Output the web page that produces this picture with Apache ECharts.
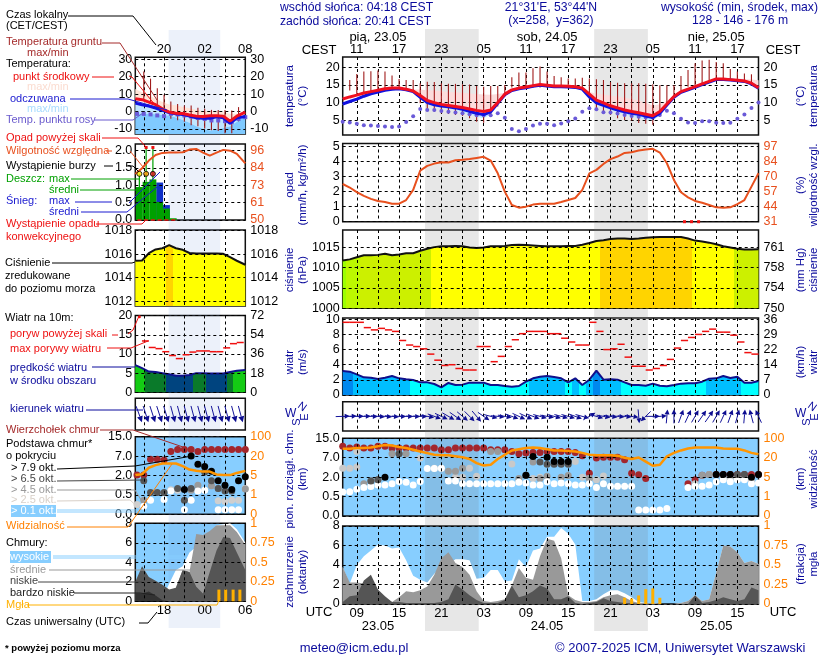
<!DOCTYPE html>
<html>
<head>
<meta charset="utf-8">
<title>meteogram</title>
<script src="https://cdn.jsdelivr.net/npm/echarts@6/dist/echarts.min.js"></script>
<style>
html,body{margin:0;padding:0;background:#fff}
#chart{width:820px;height:660px}
</style>
</head>
<body>
<div id="chart"></div>
<script>
// main panels: hourly, UTC hours counted from 00 on 23.05
const hours = Array.from({length: 60}, (_, i) => 7 + i);
const halfHours = hours.slice(0, 59).map(h => h + 0.5);
// left panels: previous forecast tail, samples read across the panel
const leftHours = [13.75,14.75,15.75,16.75,17.75,18.75,19.75,20.75,21.75,22.75,23.75,24.75,25.75,26.75,27.75,28.75,30];
const leftWhole = [14,15,16,17,18,19,20,21,22,23,24,25,26,27,28,29,30];

const nights = [[18.68, 26.3], [42.68, 50.3]];
const leftNight = [18.68, 26.3];

const cloudTicks = [0, 0.5, 2, 7, 15];
const visTicks = [0, 1, 5, 20, 100];
const pressureTicks = [1000, 1005, 1010, 1015];
const pressureLabels = ['750', '754', '758', '761'];
const rhTicks = [31, 44.2, 57.4, 70.6, 83.8, 97];
const rhLabels = ['31', '44', '57', '70', '84', '97'];
const windTicks = [0, 2, 4, 6, 8, 10];
const windLabels = ['0', '7', '14', '22', '29', '36'];

// temperature, main
const tempMid = [11,11.6,12.1,12.7,13.1,13.5,13.9,14.1,14.1,13.8,13.3,12,10.6,10,9.5,9.2,8.9,8.6,8.2,7.8,7.5,7.9,10,12.4,13.6,14.1,14.4,14.8,15.1,14.9,14.7,14.7,14.6,14.5,14.1,12.4,10.7,9.9,9.1,8.5,7.9,7.5,7.1,6.7,6.3,7.5,9.6,11.7,13.1,13.8,14.5,15.3,16,16.7,16.7,16.5,16.3,16.1,15.5,14.2];
const tempUpper = [11.2,11.8,12.3,12.9,13.3,13.7,14.1,14.3,14.3,14.1,13.7,13.7,13.5,13.4,13.2,13,12.9,12.8,12.6,12.4,12.3,12.2,12.4,12.8,13.8,14.3,14.6,15,15.3,15.1,14.9,14.9,14.8,14.7,14.4,13,12.6,12.3,12,11.7,11.4,11,10.6,10,9.2,9.5,10.5,12,13.3,14,14.7,15.5,16.2,16.9,16.9,16.9,16.8,16.7,16.5,16.3];
const felt = [9.6,10.3,11,11.8,12.5,13,13.5,13.8,13.9,13.6,13.1,11.5,10,9.4,9,8.8,8.5,8.1,7.5,7,6.6,7.4,9.8,12.2,13.4,13.9,14.2,14.6,14.9,14.7,14.5,14.5,14.4,14.3,13.8,11.6,9.9,9.2,8.5,7.9,7.4,7,6.7,6.2,5.8,7,9.3,11.5,12.9,13.6,14.3,15.1,15.8,16.5,16.5,16.4,16.2,16,15.3,14.1];
const feltLow = [9.3,10,10.6,11.4,12.1,12.7,13.2,13.5,13.6,13.4,12.9,11.3,9.7,9,8.5,8.2,7.8,7.3,6.6,6,5.6,6.6,9.5,12,13.2,13.7,14,14.4,14.7,14.5,14.3,14.3,14.2,14.1,13.6,11.2,9.4,8.6,7.9,7.2,6.7,6,5.6,5.2,4.9,6.3,9,11.3,12.7,13.4,14.1,14.9,15.6,16.3,16.3,16.2,16,15.8,15.1,13.9];
const dewPoint = [4.6,4.4,4,3.6,3.5,3.4,3.2,3.1,3.2,4.5,6.1,8.2,7.9,7.9,7.6,7.4,7.2,7,6.7,6.4,6.4,6.4,7,5.7,2.5,1.9,2.5,3.5,4,4,3.6,4.1,4.7,5.5,7.4,8.4,8.1,7.3,7.2,6.9,6.5,6.2,6,5.8,5.8,6.5,7.7,7,5.4,4.4,4.2,4.7,4.7,4.3,4.2,4.3,5.4,6.6,8.5,10];
// soil temperature sticks start at 08 UTC
const soilHours = hours.slice(1, 59);
const soilMax = [16.4,18.1,18.8,18.9,19.1,18.8,17.7,16.7,16.4,16.4,15.5,15.9,15.8,15.5,15.3,15.3,15.2,15.1,14.7,14.5,14.7,14.7,15,17.2,18.5,18.5,19.7,20.2,18.8,17.5,17.2,16.8,16.8,17,16.8,16.6,16.4,15.8,15.6,15.5,15.5,15.5,15.3,15.2,14.9,14.9,14.9,17.5,19.2,21.1,21.9,22.1,21.5,21.1,19.5,18.8,18.2,18];
const soilMin = [13.4,12,12.7,13.1,13.5,13.9,14.1,14.1,13.8,13.3,9.8,7.9,7.4,7,6.8,6.5,6.2,5.6,4.6,4.3,6.5,8.9,11.7,14.3,14.3,14.3,14.3,14.3,14.3,14.3,14.3,14.3,14.3,14.3,10.8,7.9,7,6.5,5.6,5.1,4.9,4.2,4,3.7,6,9.8,11.7,13.4,14.5,14.7,15.5,16.4,16.7,16.7,16.7,16.4,16.1,15.5];

// humidity and precipitation, main
const humidity = [64.1,61,57,53.6,51,49.2,48.3,46.8,46.8,50,58.9,75.9,80,82,83.2,83,85,85.3,86,87,88,84.7,73.5,57.4,45.7,43.3,44.2,46,46.8,46.8,46.8,48.3,50,51.8,58.9,73.5,76.5,81.7,85.9,88.2,91.4,92,93.5,94.4,95,91.7,82.3,67.7,56.8,52.4,49.2,47.7,45.7,43.6,43.3,43.6,46.5,50,61.8,73.5];
const convectiveHours = [55.5, 56.5, 57.5];

// pressure, main
const pressure = [1011.7,1012,1012.5,1013,1013,1013.1,1013.4,1013,1013.2,1013.5,1013.5,1014.1,1014.6,1015,1015.2,1015.2,1015.3,1015.2,1014.9,1014.8,1014.9,1015.2,1015.2,1015.3,1015.5,1015.6,1015.5,1015.4,1015.3,1015.2,1015.2,1015.2,1015.3,1015.3,1015.6,1016,1016.5,1016.7,1017,1017.1,1017.1,1017,1017.1,1017.3,1017.4,1017.5,1017.5,1017.5,1017.5,1017.1,1016.6,1016.4,1016.1,1015.7,1015.2,1014.9,1014.6,1014.4,1014.4,1014.5];

// wind, main
const windSpeed = [3.17,3.08,2.73,2.33,2.29,2.11,2.29,2.51,2.2,2.07,1.98,1.67,1.67,1.45,1.01,1.59,1.32,1.37,1.63,1.63,1.63,1.32,1.32,1.19,1.1,1.19,1.76,2.2,2.42,2.51,2.38,2.2,1.67,2.2,1.32,2.02,3.22,2.02,2.07,2.03,1.67,1.32,1.32,1.23,1.5,1.23,1.15,1.32,1.5,1.54,1.54,1.76,2.16,2.2,2.51,2.25,2.42,1.63,1.63,1.85];
const windGust = [9.6,9.6,9.6,8.9,8.6,8.8,8.6,8.4,7.2,6.6,6.4,6.1,5.4,4.6,3.9,4,3.5,3.3,3.3,6.4,6.4,4.4,5.1,6.4,7.3,8.1,8.4,8.4,8.4,8.1,8.1,7.5,7,6.6,6.6,9.6,8.4,6,6.1,6.7,5,3.8,3.8,3.3,3.5,3.9,4.7,6.2,7.2,7.6,8,8.4,8.7,8.3,8.3,7.9,7,5.6,5.4];
const windDir = [268,268,270,270,272,275,275,275,272,272,272,272,280,290,295,300,305,310,315,320,305,285,275,280,290,295,295,290,285,280,285,285,285,290,285,240,285,280,278,275,275,278,355,45,270,265,185,180,200,205,210,215,215,210,205,200,195,185,165,155];

// clouds, main: base heights in km per hour, null where no dot
const cloudTop = [11.7,11,11.4,11,11,11.7,11.7,11,11,11,11,11,11,11,10.3,10.3,11,11,11,11,11,10.3,10.3,10.3,9.6,8.6,8.9,9.2,9.2,9.6,9.6,9.6,9.6,9.2,7.8,3,6.9,7.2,7.2,7.2,6.5,3,2.6,1.9,null,null,null,null,null,1.5,1.8,2.5,2.7,2.7,2.7,2.7,2.7,2.7,2.7,2.7];
const cloudOver01 = [0.86,0.88,1.07,1.2,1.28,1.4,1.4,1.5,1.67,1.6,1.4,1.67,4.2,4.2,4.3,1.7,1.7,1.5,1.5,1.5,1.5,1.5,1.5,1.5,1.5,1.6,1.55,1.4,1.4,1.65,1.5,1.55,1.5,1.4,1.4,1.5,1.2,1.5,1.3,1.3,1.3,1.3,0.155,0.155,0.155,0.155,0.19,null,null,1.2,1.3,1.3,1.4,1.65,1.8,1.65,1.8,1.8,1.5,1.55];
const cloudOver25 = [[7,4.3],[8,4.3],[9,4.6],[9,9.6],[18,6.9],[20,4.3],[21,4.3],[23,2],[24,2],[25,4.3],[26,2.2],[31,5.4],[32,1.7],[34,1.9],[35,2],[40,6],[41,2],[42,1.9],[43,1.8],[44,2.3],[57,1.5],[59,2.7],[61,1.9],[62,1.9],[63,1.9],[64,1.9],[65,1.7]];
const cloudOver45 = [[10,1.5],[11,1.7],[12,1.8],[14,8.6],[15,8.6],[16,8.6],[22,3.5],[23,3.5],[24,4.3],[28,9.6],[29,9.6],[32,1.9],[34,5.9],[35,1.9],[36,2.2],[38,2],[39,2.4],[42,1.9],[58,2.5],[59,2.7]];
const cloudOver65 = [[12,1.8],[11,1.7],[15,8.6],[33,2.5],[35,5.9],[36,5.3],[37,5.3],[38,5.3],[39,5.3],[63,2.7],[64,2.7]];
const cloudOver79 = [[13,2],[33,2.5],[34,7.5],[36,7.2],[37,6],[38,6],[39,6],[60,2.7],[61,2.7],[62,2.7],[65,2],[66,2.7]];
const visibility = [57,57,60,60,62,67,72,70,64,60,53,46,39,32,30,30,26,22,19,15.8,14,14.6,19,32,50,55,60,62,60,55,50,50,48,46,40,32,30,30,30,28,20,19,21,17,13.8,14.6,26,40,50,58,62,62,62,62,58,57,57,50,40,34];
const coverHigh = [3.8,2.1,4,4.9,5.5,6.1,6,5.7,5.8,4.5,2.9,2.5,2.2,3.1,3.8,4.1,4.6,4.6,4.5,2.6,2.7,3.5,3.5,2.3,2.4,4.6,3.8,5.5,5.7,6.9,6.9,7.8,7.2,6.1,0.3,0.3,0.5,1,1.4,1.4,1.1,0.7,0.2,0.1,0.1,0,0,0,0.1,0.3,0.9,0.3,0.5,3.2,6,5.9,5.3,4.2,4.4,4.1];
const coverMid = [3.8,2.2,2.2,2.1,1.8,0.9,0.6,0.2,0.7,1.3,1.2,1.4,1.8,3,4.7,5.3,4.2,3.8,3,1.3,0.3,0.2,0.3,0.5,1.9,3.7,2.7,2.5,4.9,6.7,6.5,4.7,0.9,0.4,0.2,0.2,0.3,0.7,0.9,1,0.7,0.3,0.1,0.1,0.1,0,0,0,0.1,0.3,0.9,0.3,0.5,3.2,6,5.9,5.3,4.2,4.4,4.1];
const coverLow = [0.2,0.8,0.9,2.4,3,1.5,0.8,0.2,0.2,0.1,0.1,0.1,0.1,0.1,0.2,0.5,2,1.5,0.9,0.4,0.1,0.1,0.1,0.4,1.9,0.7,0.9,1.3,1.9,1.6,0.5,0.5,0.8,0.1,0,0.1,0.2,0.6,0.3,0.2,0.1,0.1,0,0,0,0,0,0,0,0,0.9,0.1,0.2,0.4,0.7,0.5,0.3,0.5,1.7,1.4];
const fogHours = [47, 48, 49, 50, 51, 52];
const fogFraction = [0.08, 0.07, 0.11, 0.19, 0.2, 0.08];

// left panels
const leftTempMid = [7.3,6.8,5.4,3.9,1.5,-0.4,-1,-1.2,-2.1,-2.7,-2.9,-2.5,-2.5,-2.7,-5.6,-2.7,-0.4];
const leftTempUpper = [13,11,9.3,7.3,5.4,4,3.5,2.5,1.9,1,0.2,0.2,0.2,-0.4,-1.4,-1.4,-0.4];
const leftFelt = [4.8,3.9,3.1,1.9,0.6,-0.6,-1.4,-1.7,-2.7,-3.7,-3.9,-3.9,-3.1,-3.7,-6.8,-3.7,-2.9];
const leftFeltLow = [-1,-1.2,-1.3,-1.6,-2,-2.4,-3.5,-5,-6.5,-8.5,-10,-11,-10.5,-9.5,-8.5,-6,-2.3];
const leftDewPoint = [-1.4,-1.4,-1.7,-2.3,-2.7,-1.4,-1.7,-2.3,-2.9,-3.7,-4.3,-5.2,-5.2,-5.6,-6.2,-4.3,-3.3];
const leftSoilHours = [15,16,17,18,19,20,21,22,23,24,25,26,27,28,29];
const leftSoilMax = [23,18.9,13.4,9.6,5.7,4.3,3.4,3.4,2.1,1.5,0.9,0.9,0.9,0.6,2.5];
const leftSoilMin = [7.2,4.7,2.8,1.5,-4.2,-5.1,-6,-7.9,-8.5,-9.8,-10.8,-11.3,-12.6,-12.6,-5.7];
const leftHumidity = [80.5,84.3,89.4,93.1,94.5,94.7,94.7,94.9,96.7,97.1,94.7,92.7,94.7,96.5,96,93.8,87.6];
const leftBarHours = [14.35,15.35,16.35,17.35,18.35,19.35];
const rainMean = [0.95,1.1,1.17,0.52,0.33,0.05];
const snowMax = [0,0,0,1.08,0.43,0];
const rainMax = [1.33,2.09,2.09];
const stormLevel = [1.33,1.33,1.33];
const stormColors = ['#ffee00','#ff9900','#e01010'];
const leftPressure = [1015.44,1015.46,1016.08,1016.4,1016.5,1016.76,1016.5,1016.37,1016.1,1016.06,1016.06,1016.06,1016.06,1016.03,1015.75,1015.44,1015.1];
const leftWind = [7.1,6.3,5.4,5.3,5,4.7,4.3,4.3,4.5,5,5,4.9,4.9,4.9,5.3,5.6,5.8];
const leftGustHours = [15.25,16.25,17.25,18.25,19.25,20.25,21.25,22.25,23.25,24.25,25.25,26.25,27.25,28.25,29.25];
const leftGust = [13.4,11.7,11.4,10.6,9.6,8.8,9.8,10.5,10.8,10.8,10.6,10.6,11.6,12.7,13];
const leftDir = [340,342,342,342,343,345,345,345,345,345,345,345,345,345,345,345];
const leftCloudTop = [2.1,2.1,6.2,6.2,6,8.9,9.7,9.7,9.7,8.9,9.7,9.7,9.7,9.7,9.7,9.7,9.7];
const leftOver01 = [[15,0.21],[16,0.36],[18,0.38],[19,0.8],[21,0.12],[22,0.36],[23,0.8],[24,0.85],[26,0.12],[27,0.12],[28,0.12],[29,0.12]];
const leftOver25 = [[14,0.25],[19,0.9],[20,0.85],[24,0.85],[26,0.35],[27,0.33],[28,0.36],[29,0.36],[30,1]];
const leftOver45 = [[15,0.36],[22,0.85],[23,1.25],[25,1.2],[26,1],[30,0.95]];
const leftOver65 = [[15,1.6],[16,0.68],[17,0.68],[18,0.68],[20,1],[21,0.36],[22,1],[24,2.9],[25,1.6],[26,1],[27,0.8],[28,0.8]];
const leftOver79 = [[21,0.92],[22,7],[23,4.9],[24,4.3],[25,3.1],[26,1.6],[27,1.25],[28,0.92],[29,1.6],[30,1.9]];
const leftVisibility = [5.3,6,11,13,14.3,14.3,14.3,12.2,9.6,8.6,8,8,5.8,5.3,5.3,7,8.6];
const leftCoverHigh = [0,0,0,0,0.3,1.8,3.2,3.6,5,5.6,5.9,6.4,7.8,7.9,8,7.4,6];
const leftCoverMid = [0,0,0,0,0,1,1.4,3.2,3,6.9,6.8,7.2,7.8,7.8,7.8,7.1,5.8];
const leftCoverLow = [2,3.6,2.5,2.1,1.7,1.2,1.4,3.2,3,1.5,0.8,3,5.2,6.6,6.5,5,3.2];
const leftCoverVeryLow = [0.8,0.8,1,0.6,0.1,0,0,0,0,0,0,0,0,0,0,0,0];
const leftFogHours = [26.1,27.1,28.2,29.2];
const leftFog = [0.15,0.15,0.15,0.15];

const FONT = '"Liberation Sans", Arial, sans-serif';
const NAVY = '#0a0a9c';
const ORANGE = '#ff8000';
const RH_COLOR = '#e8501e';
const SKY = '#87ceff';

const pairs = (xs, ys) => xs.map((x, i) => [x, ys[i]]);

function scaleLevel(v, ticks) {
    if (v == null) return null;
    for (let i = 1; i < ticks.length; i++) {
        if (v <= ticks[i]) return i - 1 + (v - ticks[i - 1]) / (ticks[i] - ticks[i - 1]);
    }
    return ticks.length - 1;
}
const cloudLevel = v => scaleLevel(v, cloudTicks);
const visLevel = v => scaleLevel(v, visTicks);

function pressureColor(p) {
    if (p < 1012) return '#9cff00';
    if (p < 1013) return '#bcf800';
    if (p < 1014.7) return '#ccf000';
    if (p < 1016.65) return '#ffff00';
    return '#ffd400';
}
function windColor(v) {
    if (v >= 3) return '#0088ee';
    if (v >= 2) return '#00bfff';
    return '#00ffff';
}
function leftWindColor(v) {
    if (v >= 5.5) return '#14cc14';
    if (v >= 4.95) return '#0a7a2a';
    return '#00447f';
}
// hard colour steps across an area, one per sample
function stepFill(xs, ys, colorOf) {
    const x0 = xs[0], x1 = xs[xs.length - 1];
    const stops = [];
    for (let i = 0; i < xs.length; i++) {
        const a = i === 0 ? x0 : (xs[i - 1] + xs[i]) / 2;
        const b = i === xs.length - 1 ? x1 : (xs[i] + xs[i + 1]) / 2;
        const c = colorOf(ys[i]);
        stops.push({offset: (a - x0) / (x1 - x0), color: c});
        stops.push({offset: (b - x0) / (x1 - x0), color: c});
    }
    return new echarts.graphic.LinearGradient(0, 0, 1, 0, stops);
}

const grids = [], xAxes = [], yAxes = [], series = [];
const gridLine = {show: true, lineStyle: {color: '#000', width: 1, type: [3, 3]}};

function labelFn(ticks, labels) {
    return v => {
        let idx = ticks.indexOf(v);
        return idx < 0 ? '' : labels[idx];
    };
}

function addPanel(opt) {
    const g = grids.length;
    grids.push({
        show: true, left: opt.left, top: opt.top, width: opt.width, height: opt.bottom - opt.top,
        borderColor: '#111', borderWidth: 1.5, backgroundColor: opt.bg || 'transparent'
    });
    const xi = xAxes.length;
    xAxes.push({
        gridIndex: g, type: 'value', min: opt.xMin, max: opt.xMax, z: 5, position: 'bottom',
        axisLine: {show: false}, axisTick: {show: false, customValues: opt.xGrid},
        axisLabel: {show: false}, splitLine: gridLine
    });
    const yl = yAxes.length;
    yAxes.push({
        gridIndex: g, type: 'value', position: 'left', min: opt.yMin, max: opt.yMax, z: 5,
        axisLine: {show: false}, axisTick: {show: false, customValues: opt.yTicks || []},
        axisLabel: {
            show: !!opt.yTicks, customValues: opt.yTicks || [], margin: 3,
            color: '#000', fontFamily: FONT, fontSize: 12.5, formatter: opt.yFmt || (v => String(v))
        },
        splitLine: opt.yTicks ? gridLine : {show: false}
    });
    const rMin = opt.rMin === undefined ? opt.yMin : opt.rMin;
    const rMax = opt.rMax === undefined ? opt.yMax : opt.rMax;
    yAxes.push({
        gridIndex: g, type: 'value', position: 'right', min: rMin, max: rMax, z: 5,
        axisLine: {show: false}, axisTick: {show: false, customValues: opt.rTicks || []},
        axisLabel: {
            show: !!opt.rTicks, customValues: opt.rTicks || [], margin: 5,
            color: opt.rColor || '#000', fontFamily: FONT, fontSize: 12.5, formatter: opt.rFmt || (v => String(v))
        },
        splitLine: {show: false}
    });
    return {x: xi, yl: yl, yr: yl + 1, g: g};
}

function addLabelAxis(panel, position, offset, ticks, fmt) {
    const ref = xAxes[panel.x];
    xAxes.push({
        gridIndex: panel.g, type: 'value', min: ref.min, max: ref.max, position: position, offset: offset, z: 5,
        axisLine: {show: false}, axisTick: {show: false, customValues: ticks},
        axisLabel: {show: true, customValues: ticks, margin: position === 'top' ? 1 : 3, color: '#000', fontFamily: FONT, fontSize: 13, formatter: fmt},
        splitLine: {show: false}
    });
}

function line(p, data, color, width, z, extra) {
    series.push(Object.assign({
        type: 'line', xAxisIndex: p.x, yAxisIndex: p.yl, data: data, showSymbol: false, silent: true,
        lineStyle: {color: color, width: width}, itemStyle: {color: color}, z: z
    }, extra || {}));
}
function area(p, xs, ys, fill, z, lineColor, lineWidth) {
    series.push({
        type: 'line', xAxisIndex: p.x, yAxisIndex: p.yl, data: pairs(xs, ys), showSymbol: false, silent: true,
        lineStyle: lineColor ? {color: lineColor, width: lineWidth} : {width: 0},
        itemStyle: {color: lineColor || '#000'},
        areaStyle: {color: fill, opacity: 1, origin: 'start'}, z: z
    });
}
// filled band between two curves, one polygon through the axis scales
function band(p, xs, lower, upper, color, z) {
    series.push({
        type: 'custom', xAxisIndex: p.x, yAxisIndex: p.yl, data: xs.map((x, i) => [x, lower[i], upper[i]]), silent: true, z: z,
        encode: {x: 0, y: [1, 2]},
        renderItem: (params, api) => {
            if (params.dataIndex !== 0) return null;
            const top = xs.map((x, i) => api.coord([x, upper[i]]));
            const low = xs.map((x, i) => api.coord([x, lower[i]])).reverse();
            return {type: 'polygon', shape: {points: top.concat(low)}, style: {fill: color}};
        }
    });
}
function dots(p, data, color, size, z, symbol) {
    series.push({
        type: 'scatter', xAxisIndex: p.x, yAxisIndex: p.yl, data: data, silent: true,
        symbol: symbol || 'circle', symbolSize: size, itemStyle: {color: color, opacity: 1}, z: z
    });
}
function sticks(p, data, color, width, z) {
    series.push({
        type: 'custom', xAxisIndex: p.x, yAxisIndex: p.yl, data: data, silent: true, z: z,
        encode: {x: 0, y: [1, 2]},
        renderItem: (params, api) => {
            const a = api.coord([api.value(0), api.value(1)]);
            const b = api.coord([api.value(0), api.value(2)]);
            return {type: 'line', shape: {x1: a[0], y1: a[1], x2: b[0], y2: b[1]}, style: {stroke: color, lineWidth: width}};
        }
    });
}
function arrows(p, data, len, head, z) {
    series.push({
        type: 'custom', xAxisIndex: p.x, yAxisIndex: p.yl, data: data, silent: true, z: z, clip: false,
        encode: {x: 0, y: 1},
        renderItem: (params, api) => {
            const c = api.coord([api.value(0), 0.5]);
            // wind comes from dir, arrow points the other way
            const rad = api.value(1) * Math.PI / 180;
            const ux = -Math.sin(rad), uy = Math.cos(rad);
            const tail = [c[0] - ux * len / 2, c[1] - uy * len / 2];
            const tip = [c[0] + ux * len / 2, c[1] + uy * len / 2];
            const base = [tip[0] - ux * head, tip[1] - uy * head];
            const px = -uy * head / 2, py = ux * head / 2;
            return {type: 'group', children: [
                {type: 'line', shape: {x1: tail[0], y1: tail[1], x2: base[0], y2: base[1]}, style: {stroke: '#14149a', lineWidth: 1}},
                {type: 'polygon', shape: {points: [tip, [base[0] + px, base[1] + py], [base[0] - px, base[1] - py]]}, style: {fill: '#0c0c90'}}
            ]};
        }
    });
}
function bars(p, data, color, width, z, onRight) {
    series.push({
        type: 'bar', xAxisIndex: p.x, yAxisIndex: onRight ? p.yr : p.yl, data: data, silent: true,
        barWidth: width, barGap: '-100%', itemStyle: {color: color}, z: z
    });
}

// night bands, one tall overlay grid per time scale
const MAIN_X = {left: 342.7, width: 415.8, xMin: 7, xMax: 66};
const LEFT_X = {left: 135.3, width: 110, xMin: 13.75, xMax: 30};
const mainGrid = [9,12,15,18,21,24,27,30,33,36,39,42,45,48,51,54,57,60,63];
const leftGrid = [15,18,21,24,27];

function nightOverlay(x, top, bottom, ranges, color) {
    const p = addPanel(Object.assign({}, x, {top: top, bottom: bottom, yMin: 0, yMax: 1, xGrid: []}));
    grids[p.g].show = false;
    series.push({
        type: 'line', xAxisIndex: p.x, yAxisIndex: p.yl, data: [], silent: true, z: 1,
        markArea: {silent: true, itemStyle: {color: color}, data: ranges.map(r => [{xAxis: r[0]}, {xAxis: r[1]}])}
    });
}
nightOverlay(MAIN_X, 29, 631, nights, 'rgba(120,120,120,0.18)');
nightOverlay(LEFT_X, 30, 628, [leftNight], 'rgba(100,140,215,0.12)');

function panelMain(top, bottom, o) { return addPanel(Object.assign({xGrid: mainGrid}, MAIN_X, {top: top, bottom: bottom}, o)); }
function panelLeft(top, bottom, o) { return addPanel(Object.assign({xGrid: leftGrid}, LEFT_X, {top: top, bottom: bottom}, o)); }

const pad2 = h => String(((h % 24) + 24) % 24).padStart(2, '0');
const cloudFmt = v => cloudTicks[v].toFixed(1);
const visFmt = v => String(visTicks[v]);

// ---- main column ----
const mT = panelMain(57, 135, {yMin: 0.83, yMax: 22.9, yTicks: [5, 10, 15, 20], rTicks: [5, 10, 15, 20]});
addLabelAxis(mT, 'top', 0, [9, 15, 21, 27, 33, 39, 45, 51, 57, 63], v => pad2(v + 2));
addLabelAxis(mT, 'top', 12, [12, 36, 60], v => ({12: 'pią, 23.05', 36: 'sob, 24.05', 60: 'nie, 25.05'})[v]);
band(mT, hours, tempMid, tempUpper, '#fcdcdc', 3);
band(mT, hours, feltLow, felt, '#c0e8ff', 3);
sticks(mT, soilHours.map((h, i) => [h, soilMin[i], soilMax[i]]), '#a01c1c', 1.1, 6);
dots(mT, pairs(hours, dewPoint), '#6a5ad8', 4, 7);
line(mT, pairs(hours, felt), '#1010e0', 3, 8);
line(mT, pairs(hours, tempMid), '#f01020', 3, 9);

const mP = panelMain(143.5, 221.7, {
    yMin: 0, yMax: 5.2, yTicks: [0, 1, 2, 3, 4, 5], rMin: 31, rMax: 99.64, rTicks: rhTicks,
    rFmt: labelFn(rhTicks, rhLabels), rColor: RH_COLOR
});
series.push({type: 'line', xAxisIndex: mP.x, yAxisIndex: mP.yr, data: pairs(hours, humidity), showSymbol: false, silent: true, lineStyle: {color: RH_COLOR, width: 2}, z: 8});
dots(mP, convectiveHours.map(h => [h, 0]), '#ee1111', [3, 3], 9, 'rect');

const mB = panelMain(230, 308.3, {
    yMin: 1000, yMax: 1019.2, yTicks: pressureTicks, rTicks: pressureTicks, rFmt: labelFn(pressureTicks, pressureLabels)
});
area(mB, hours, pressure, stepFill(hours, pressure, pressureColor), 3, '#111', 2);

const mW = panelMain(318, 395, {
    yMin: 0, yMax: 10.17, yTicks: windTicks, rTicks: windTicks, rFmt: labelFn(windTicks, windLabels)
});
area(mW, hours, windSpeed, stepFill(hours, windSpeed, windColor), 3, '#10108c', 2);
dots(mW, pairs(halfHours, windGust), '#f01010', [7.2, 1.5], 7, 'rect');

const mD = panelMain(401.7, 431, {yMin: 0, yMax: 1});
arrows(mD, pairs(hours, windDir), 14, 5, 7);

const mC = panelMain(438.3, 516, {
    yMin: 0, yMax: 4, yTicks: [0, 1, 2, 3, 4], yFmt: cloudFmt, rTicks: [0, 1, 2, 3, 4], rFmt: visFmt, rColor: ORANGE, bg: SKY
});
const lvl = arr => arr.map(d => [d[0], cloudLevel(d[1])]);
dots(mC, hours.map((h, i) => [h, cloudLevel(cloudTop[i])]).filter(d => d[1] != null), '#a3262c', 7, 3);
dots(mC, lvl(cloudOver25), '#c9c9c9', 7, 3);
dots(mC, lvl(cloudOver45), '#9a9a9a', 7, 3);
dots(mC, hours.map((h, i) => [h, cloudLevel(cloudOver01[i])]).filter(d => d[1] != null), '#ffffff', 7, 4);
dots(mC, lvl(cloudOver65), '#555555', 7, 4);
dots(mC, lvl(cloudOver79), '#000000', 7, 4);
line(mC, hours.map((h, i) => [h, visLevel(visibility[i])]), '#ff9500', 2.5, 8);

const mK = panelMain(526, 604, {
    yMin: 0, yMax: 8, yTicks: [0, 2, 4, 6, 8], rMin: 0, rMax: 1, rTicks: [0, 0.25, 0.5, 0.75, 1], rColor: ORANGE, bg: SKY
});
addLabelAxis(mK, 'bottom', 0, [9, 15, 21, 27, 33, 39, 45, 51, 57, 63], v => pad2(v));
addLabelAxis(mK, 'bottom', 13, [12, 36, 60], v => ({12: '23.05', 36: '24.05', 60: '25.05'})[v]);
area(mK, hours, coverHigh, '#ffffff', 3);
area(mK, hours, coverMid, '#999999', 3);
area(mK, hours, coverLow, '#555555', 3);
bars(mK, pairs(fogHours, fogFraction), '#ffb000', 3, 7, true);

// ---- left column ----
const lT = panelLeft(57.3, 134, {
    yMin: -13, yMax: 31.2, yTicks: [-10, 0, 10, 20, 30], rTicks: [-10, 0, 10, 20, 30]
});
addLabelAxis(lT, 'top', 0, [18, 24, 30], v => pad2(v + 2));
band(lT, leftHours, leftTempMid, leftTempUpper, '#ffe4d8', 3);
band(lT, leftHours, leftFeltLow, leftFelt, '#c0e6ff', 3);
area(lT, leftHours, leftFeltLow, '#80caff', 3);
sticks(lT, leftSoilHours.map((h, i) => [h, leftSoilMin[i], leftSoilMax[i]]), '#a01c1c', 1.1, 6);
dots(lT, pairs(leftWhole, leftDewPoint), '#6a5ad8', 4, 7, 'rect');
line(lT, pairs(leftHours, leftFelt), '#1010e0', 3, 8);
line(lT, pairs(leftHours, leftTempMid), '#f01020', 3, 9);

const lP = panelLeft(144, 220, {
    yMin: 0, yMax: 2.19, yTicks: [0, 0.5, 1, 1.5, 2], yFmt: v => v.toFixed(1),
    rMin: 50, rMax: 100.4, rTicks: [50, 61.5, 73, 84.5, 96], rFmt: labelFn([50, 61.5, 73, 84.5, 96], ['50', '61', '73', '84', '96']), rColor: RH_COLOR
});
bars(lP, pairs(leftBarHours, snowMax), '#1030c8', 6.9, 3);
bars(lP, pairs(leftBarHours, rainMean), '#00a000', 6.9, 3);
sticks(lP, leftBarHours.slice(0, 3).map((h, i) => [h, rainMean[i], rainMax[i]]), '#00a000', 1.2, 6);
dots(lP, leftBarHours.slice(1, 3).map(h => [h, 2.09]), '#ee1111', [3, 3], 8, 'rect');
series.push({
    type: 'scatter', xAxisIndex: lP.x, yAxisIndex: lP.yl, silent: true, symbolSize: 5, z: 9,
    data: leftBarHours.slice(0, 3).map((h, i) => ({value: [h, stormLevel[i]], itemStyle: {color: stormColors[i], borderColor: '#000', borderWidth: 1}}))
});
dots(lP, leftBarHours.map(h => [h, 0]), '#ee1111', [4, 1.5], 9, 'rect');
series.push({type: 'line', xAxisIndex: lP.x, yAxisIndex: lP.yr, data: pairs(leftHours, leftHumidity), showSymbol: false, silent: true, lineStyle: {color: RH_COLOR, width: 2}, z: 8});

const lB = panelLeft(230, 306, {yMin: 1011.6, yMax: 1018.05, yTicks: [1012, 1014, 1016, 1018], rTicks: [1012, 1014, 1016, 1018]});
area(lB, leftHours, leftPressure, stepFill(leftHours, leftPressure, pressureColor), 3, '#111', 2);

const lW = panelLeft(315.5, 392.3, {
    yMin: 0, yMax: 20.05, yTicks: [0, 5, 10, 15, 20], rTicks: [0, 5, 10, 15, 20],
    rFmt: labelFn([0, 5, 10, 15, 20], ['0', '18', '36', '54', '72'])
});
area(lW, leftHours, leftWind, stepFill(leftHours, leftWind, leftWindColor), 3, '#10108c', 2);
dots(lW, pairs(leftGustHours, leftGust), '#f01010', [7, 1.5], 7, 'rect');
dots(lW, [[14.35, 19.7]], '#f01010', 3, 7);

const lD = panelLeft(398.3, 430, {yMin: 0, yMax: 1});
arrows(lD, pairs(leftWhole.slice(0, 16).map(h => h + 0.3), leftDir), 17, 6, 7);

const lC = panelLeft(436.7, 514.3, {
    yMin: 0, yMax: 4, yTicks: [0, 1, 2, 3, 4], yFmt: cloudFmt, rTicks: [0, 1, 2, 3, 4], rFmt: visFmt, rColor: ORANGE, bg: SKY
});
dots(lC, pairs(leftWhole, leftCloudTop.map(cloudLevel)), '#a3262c', 7, 3);
dots(lC, lvl(leftOver25), '#cfcfcf', 7, 3);
dots(lC, lvl(leftOver45), '#9a9a9a', 7, 3);
dots(lC, lvl(leftOver01), '#ffffff', 7, 4);
dots(lC, lvl(leftOver65), '#555555', 7, 4);
dots(lC, lvl(leftOver79), '#000000', 7, 4);
line(lC, leftHours.map((h, i) => [h, visLevel(leftVisibility[i])]), '#ff9500', 2.5, 8);

const lK = panelLeft(523.3, 601.3, {
    yMin: 0, yMax: 8, yTicks: [0, 2, 4, 6, 8], rMin: 0, rMax: 1, rTicks: [0, 0.25, 0.5, 0.75, 1], rColor: ORANGE, bg: SKY
});
addLabelAxis(lK, 'bottom', 0, [18, 24, 30], v => pad2(v));
area(lK, leftHours, leftCoverHigh, '#ffffff', 3);
area(lK, leftHours, leftCoverMid, '#999999', 3);
area(lK, leftHours, leftCoverLow, '#555555', 3);
area(lK, leftHours, leftCoverVeryLow, '#333333', 3);
bars(lK, pairs(leftFogHours, leftFog), '#ffb000', 3, 7, true);

// ---- texts and leader lines ----
const gfx = [];
function txt(x, y, text, color, o) {
    o = o || {};
    gfx.push({
        type: 'text', x: x, y: y, rotation: o.rot || 0, z: 60, silent: true,
        style: {
            text: text, fill: color || '#000', align: o.align || 'left', verticalAlign: 'middle',
            font: (o.bold ? 'bold ' : '') + (o.size || 11) + 'px ' + FONT
        }
    });
}
const vtxt = (x, y, text, color) => txt(x, y, text, color || NAVY, {rot: Math.PI / 2, align: 'center', size: 11.5});
function lead(points, color, w) {
    gfx.push({type: 'polyline', z: 50, silent: true, shape: {points: points}, style: {stroke: color, lineWidth: w || 1, fill: null}});
}
function box(x, y, w, h, color) {
    gfx.push({type: 'rect', z: 55, silent: true, shape: {x: x, y: y, width: w, height: h}, style: {fill: color}});
}

// header
const HEAD = {size: 12.2};
txt(280, 8, 'wschód słońca: 04:18 CEST', NAVY, HEAD);
txt(280, 22, 'zachód słońca: 20:41 CEST', NAVY, HEAD);
txt(551, 8, "21°31'E, 53°44'N", NAVY, {align: 'center', size: 12.2});
txt(551, 21, '(x=258,  y=362)', NAVY, {align: 'center', size: 12.2});
txt(818, 8, 'wysokość (min, środek, max)', NAVY, {align: 'right', size: 12.2});
txt(740, 21, '128 - 146 - 176 m', NAVY, {align: 'center', size: 12.2});
txt(319, 50, 'CEST', '#000', {align: 'center', size: 13});
txt(783, 50, 'CEST', '#000', {align: 'center', size: 13});
txt(319, 612, 'UTC', '#000', {align: 'center', size: 13});
txt(783, 612, 'UTC', '#000', {align: 'center', size: 13});

// axis captions, main column
[[96, 'temperatura', '(°C)', '(°C)', 'temperatura'],
 [185, 'opad', '(mm/h, kg/m²/h)', '(%)', 'wilgotność wzgl.'],
 [270, 'ciśnienie', '(hPa)', '(mm Hg)', 'ciśnienie'],
 [362, 'wiatr', '(m/s)', '(km/h)', 'wiatr']].forEach(c => {
    vtxt(290, c[0], c[1]); vtxt(303, c[0], c[2]); vtxt(801, c[0], c[3]); vtxt(814, c[0], c[4]);
});
vtxt(290, 479, 'pion. rozciągł. chm.'); vtxt(303, 479, '(km)');
vtxt(801, 479, '(km)'); vtxt(814, 479, 'widzialność');
vtxt(290, 572, 'zachmurzenie'); vtxt(303, 572, '(oktanty)');
vtxt(801, 564, '(frakcja)'); vtxt(814, 564, 'mgła');

// compass marks next to the wind direction strip
[285, 795].forEach(x0 => {
    txt(x0, 414, 'W', NAVY, {align: 'left', size: 12});
    txt(x0 + 17, 407, 'N', NAVY, {rot: -Math.PI / 5, align: 'center', size: 11});
    txt(x0 + 12, 422, 'S', NAVY, {rot: Math.PI / 2, align: 'center', size: 11});
    txt(x0 + 20, 417, 'E', NAVY, {rot: Math.PI / 2, align: 'center', size: 11});
});

// legend, left margin
const RED = '#ee1111', DRED = '#a52a2a', GREEN = '#00a000', BLUE = '#1a1ad0';
txt(6, 15, 'Czas lokalny'); txt(6, 26, '(CET/CEST)');
lead([[68, 16], [133, 16], [156, 45]], '#000');
txt(6, 42, 'Temperatura gruntu', DRED); txt(27, 53, 'max/min', DRED);
lead([[102, 43], [120, 43], [157, 100]], DRED);
txt(6, 64, 'Temperatura:');
txt(13, 77, 'punkt środkowy', RED);
lead([[92, 77], [114, 77]], RED); lead([[129, 76], [132, 77], [156, 106]], RED);
txt(27, 87, 'max/min', '#fbdcd0');
txt(10, 99, 'odczuwana', BLUE);
lead([[70, 99], [128, 99], [135, 101], [167, 110]], BLUE);
txt(27, 109, 'max/min', '#a8dcff');
txt(6, 120, 'Temp. punktu rosy', '#6a5acd');
lead([[94, 120], [133, 120], [143, 113]], '#6a5acd');
txt(6, 138, 'Opad powyżej skali', RED);
lead([[102, 138], [138, 138], [146, 147]], RED);
txt(6, 151, 'Wilgotność względna', RH_COLOR);
lead([[106, 151], [112, 151]], RH_COLOR); lead([[130, 151], [143, 167]], RH_COLOR);
txt(6, 166, 'Wystąpienie burzy');
lead([[104, 166], [113, 166]], '#000'); lead([[128, 166], [133, 166], [139, 172]], '#000');
txt(6, 179, 'Deszcz:', GREEN); txt(49, 179, 'max', GREEN);
lead([[71, 179], [140, 179]], GREEN);
txt(49, 190, 'średni', GREEN);
lead([[80, 190], [140, 190]], GREEN);
txt(6, 201, 'Śnieg:', BLUE); txt(49, 201, 'max', BLUE);
lead([[75, 202], [112, 202]], BLUE); lead([[129, 203], [160, 172]], BLUE);
txt(49, 212, 'średni', BLUE);
lead([[81, 212], [127, 212], [157, 187]], BLUE);
txt(6, 224, 'Wystąpienie opadu', RED); txt(6, 237, 'konwekcyjnego', RED);
lead([[96, 224], [142, 224], [145, 221]], RED);
txt(5, 263, 'Ciśnienie'); txt(5, 276, 'zredukowane'); txt(5, 289, 'do poziomu morza');
lead([[52, 263], [132, 263], [135, 262]], '#000');
txt(5, 318, 'Wiatr na 10m:');
txt(10, 334, 'poryw powyżej skali', RED);
lead([[112, 335], [118, 335]], RED); lead([[128, 334], [133, 330], [139, 316]], RED);
txt(10, 349, 'max porywy wiatru', RED);
lead([[107, 348], [131, 348], [148, 341]], RED);
txt(10, 368, 'prędkość wiatru', NAVY); txt(10, 381, 'w środku obszaru', NAVY);
lead([[92, 367], [135, 367]], NAVY);
txt(10, 409, 'kierunek wiatru', NAVY);
lead([[86, 410], [143, 410]], NAVY);
txt(6, 429.5, 'Wierzchołek chmur', DRED);
lead([[100, 430], [133, 430], [183, 447]], DRED);
txt(6, 444, 'Podstawa chmur*'); txt(6, 456, 'o pokryciu');
txt(11, 468, '> 7.9 okt.');
lead([[57, 469], [135, 466], [192, 456]], '#000');
txt(11, 479, '> 6.5 okt.', '#444');
lead([[57, 481], [143, 480]], '#444');
txt(11, 490, '> 4.5 okt.', '#999');
lead([[57, 490], [135, 490], [143, 503]], '#999');
txt(11, 500, '> 2.5 okt.', '#d8d0c8');
lead([[57, 501], [130, 500], [140, 509]], '#d8d0c8');
box(11, 505, 45, 12, SKY);
txt(11, 511, '> 0.1 okt.', '#fff');
lead([[57, 510], [137, 510]], SKY); lead([[57, 512], [137, 512]], SKY);
txt(6, 526, 'Widzialność', ORANGE);
lead([[67, 527], [128, 527], [172, 464]], ORANGE);
txt(6, 543, 'Chmury:');
box(10, 551, 41, 12, SKY);
txt(10, 557, 'wysokie', '#fff');
lead([[53, 556], [185, 556]], SKY); lead([[53, 558], [185, 558]], SKY);
txt(10, 570, 'średnie', '#999');
lead([[49, 570], [193, 570]], '#999');
txt(10, 581, 'niskie', '#444');
lead([[38, 582], [142, 582]], '#444');
txt(10, 593, 'bardzo niskie', '#222');
lead([[74, 593], [140, 593], [155, 595]], '#222');
txt(6, 605, 'Mgła', '#ffb000');
lead([[27, 605], [217, 605], [220, 598]], '#ffb000');
txt(6, 622, 'Czas uniwersalny (UTC)');
lead([[139, 623], [148, 623], [157, 612]], '#000');
txt(5, 648, '* powyżej poziomu morza', '#000', {bold: true, size: 9.5});

// footer
txt(354, 648, 'meteo@icm.edu.pl', NAVY, {align: 'center', size: 13});
txt(555, 648, '© 2007-2025 ICM, Uniwersytet Warszawski', NAVY, {size: 13});

const myChart = echarts.init(document.getElementById('chart'), null, {renderer: 'canvas'});
myChart.setOption({
    animation: false,
    backgroundColor: '#fff',
    textStyle: {fontFamily: FONT},
    grid: grids,
    xAxis: xAxes,
    yAxis: yAxes,
    series: series,
    graphic: gfx
});
</script>
</body>
</html>
